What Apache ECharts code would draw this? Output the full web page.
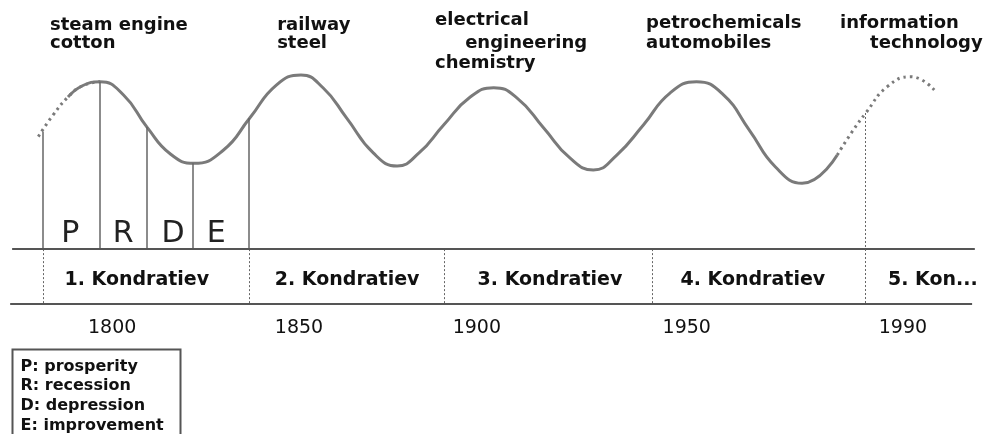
<!DOCTYPE html>
<html><head><meta charset="utf-8">
<script src="https://cdn.jsdelivr.net/npm/echarts@6/dist/echarts.min.js"></script>
<style>html,body{margin:0;padding:0;background:#fff}#c{width:985px;height:434px}</style>
</head><body><div id="c"></div>
<script>
// Schematic time axis (years) and schematic economic activity level (baseline = 0)
const curveX = [1786.4, 1790.1, 1794.6, 1800.6, 1806.6, 1812.6, 1818.6, 1826.2, 1832.9, 1839.7, 1846.0, 1851.7, 1857.7, 1864.5, 1870.6, 1876.2, 1882.5, 1889.3, 1895.3, 1901.3, 1908.1, 1914.8, 1920.8, 1926.8, 1933.6, 1940.4, 1947.2, 1953.9, 1960.7, 1967.4, 1974.2, 1983.2];
const curveY = [87.6, 94.1, 96.4, 88.8, 70.3, 54.8, 49.4, 57.1, 75.5, 94.5, 100.3, 92.8, 75.5, 55.4, 47.9, 55.4, 71.5, 87.6, 93.0, 87.0, 69.8, 52.5, 45.6, 54.2, 71.5, 89.9, 96.4, 89.3, 68.6, 47.3, 37.9, 54.2];
const leadX = [1778.8, 1782.6, 1786.4, 1790.1, 1794.6];
const leadY = [64.8, 77.3, 87.6, 94.1, 96.4];
const tailX = [1983.2, 1987.0, 1990.5, 1996.0, 2002.0, 2008.0];
const tailY = [54.2, 67.6, 78.4, 93.6, 99.3, 91.7];

const phaseX = [1780, 1794.6, 1806.6, 1818.4, 1832.7];
const phaseTop = [67.6, 96.4, 70.3, 49.4, 75.5];
const phaseLetters = ['P', 'R', 'D', 'E'];
const phaseLetterX = [1787, 1800.5, 1813.3, 1824.3];
const phaseLetterY = 8.7;

const waveBounds = [1780, 1832.7, 1882.6, 1935.8, 1990.4];
const waveBoundTop = [0, 0, 0, 0, 78.4];
const waveNames = ['1. Kondratiev', '2. Kondratiev', '3. Kondratiev', '4. Kondratiev', '5. Kon...'];
const waveNameX = [1804, 1857.8, 1909.7, 1961.6, 1996.2];
const waveNameY = -17.8;

const yearLabels = ['1800', '1850', '1900', '1950', '1990'];
const yearX = [1797.7, 1845.5, 1891, 1944.7, 2000];
const yearY = -45.4;

const bandTop = 0, bandBottom = -31.6;
const bandTopSpan = [1772.1, 2018.4];
const bandBottomSpan = [1771.6, 2017.7];

const innovationText = ['steam engine', 'cotton', 'railway', 'steel', 'electrical', 'engineering', 'chemistry', 'petrochemicals', 'automobiles', 'information', 'technology'];
const innovationX = [1781.8, 1781.8, 1839.9, 1839.9, 1880.3, 1888, 1880.3, 1934.3, 1934.3, 1983.9, 1991.6];
const innovationY = [129.1, 118.7, 129.1, 118.7, 132.0, 118.7, 107.2, 130.3, 118.7, 130.3, 118.7];

const legendLines = ['P: prosperity', 'R: recession', 'D: depression', 'E: improvement'];

const zip = (xs, ys) => xs.map((x, i) => [x, ys[i]]);
const FONT = '"DejaVu Sans"';
const CURVE = '#7a7a7a';

const chart = echarts.init(document.getElementById('c'), null, {renderer: 'canvas'});
chart.setOption({
  animation: false,
  backgroundColor: '#fff',
  grid: {left: 0, right: 0, top: 0, bottom: 0},
  xAxis: {type: 'value', min: 1769, max: 2021, show: false},
  yAxis: {type: 'value', min: -106.5, max: 143.5, show: false},
  series: [
    {type: 'line', silent: true, data: zip(leadX, leadY), smooth: 0.5, symbol: 'none', z: 2,
     lineStyle: {color: CURVE, width: 3, type: [2.5, 4]}},
    {type: 'line', silent: true, data: zip(tailX, tailY), smooth: 0.5, symbol: 'none', z: 2,
     lineStyle: {color: CURVE, width: 3, type: [2.5, 4]}},
    {type: 'line', silent: true, data: zip(curveX, curveY), smooth: 0.5, symbol: 'none', z: 3,
     lineStyle: {color: CURVE, width: 3}},
    {type: 'lines', coordinateSystem: 'cartesian2d', silent: true, z: 4,
     lineStyle: {color: '#666', width: 1.5, opacity: 1},
     data: phaseX.map((x, i) => ({coords: [[x, phaseTop[i]], [x, bandTop]]}))},
    {type: 'lines', coordinateSystem: 'cartesian2d', silent: true, z: 4,
     lineStyle: {color: '#666', width: 1, type: [2, 2], opacity: 1},
     data: waveBounds.map((x, i) => ({coords: [[x, waveBoundTop[i]], [x, bandBottom]]}))},
    {type: 'lines', coordinateSystem: 'cartesian2d', silent: true, z: 5,
     lineStyle: {color: '#555', width: 2, opacity: 1},
     data: [{coords: [[bandTopSpan[0], bandTop], [bandTopSpan[1], bandTop]]},
            {coords: [[bandBottomSpan[0], bandBottom], [bandBottomSpan[1], bandBottom]]}]}
  ]
});

// text annotations placed through the chart's own scales
const toPx = (x, y) => chart.convertToPixel({gridIndex: 0}, [x, y]);
const txt = (x, y, text, align, font, fill) => {
  const p = toPx(x, y);
  return {type: 'text', x: p[0], y: p[1], silent: true, z: 20,
    style: {text, font, fill: fill || '#111', textAlign: align, textVerticalAlign: 'middle'}};
};
const graphics = [];
phaseLetters.forEach((t, i) => graphics.push(txt(phaseLetterX[i], phaseLetterY, t, 'center', '30px ' + FONT, '#222')));
waveNames.forEach((t, i) => graphics.push(txt(waveNameX[i], waveNameY, t, i < 4 ? 'center' : 'left', 'bold 19px ' + FONT)));
yearLabels.forEach((t, i) => graphics.push(txt(yearX[i], yearY, t, 'center', '19px ' + FONT)));
innovationText.forEach((t, i) => graphics.push(txt(innovationX[i], innovationY[i], t, 'left', 'bold 18px ' + FONT)));
graphics.push({
  type: 'group', left: 10, top: 347, silent: true,
  children: [
    {type: 'rect', shape: {x: 0, y: 0, width: 168, height: 100}, style: {fill: 'none', stroke: '#555', lineWidth: 2}},
    ...legendLines.map((t, i) => ({type: 'text', x: 8, y: 17 + i * 19.7,
      style: {text: t, font: 'bold 16px ' + FONT, fill: '#111', textVerticalAlign: 'middle'}}))
  ]
});
chart.setOption({graphic: graphics});
</script></body></html>
